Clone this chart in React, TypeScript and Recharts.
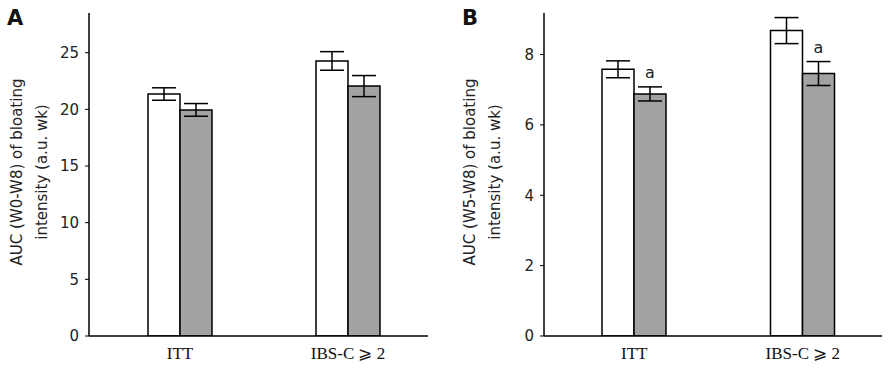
import React from 'react';
import { BarChart, Bar, XAxis, YAxis, ErrorBar, LabelList } from 'recharts';

const categories = ['ITT', 'IBS-C ⩾ 2'];

// Panel A: AUC (W0-W8)
const aControl = [21.35, 24.27];
const aControlErr = [0.55, 0.82];
const aTreated = [19.95, 22.05];
const aTreatedErr = [0.56, 0.93];
const aTicks = [0, 5, 10, 15, 20, 25];

// Panel B: AUC (W5-W8)
const bControl = [7.58, 8.68];
const bControlErr = [0.24, 0.37];
const bTreated = [6.88, 7.46];
const bTreatedErr = [0.2, 0.34];
const bSig = ['a', 'a'];
const bTicks = [0, 2, 4, 6, 8];

const sans = 'Tahoma, "DejaVu Sans", Verdana, sans-serif';
const serif = '"Liberation Serif", "Times New Roman", serif';

const build = (c: number[], ce: number[], t: number[], te: number[], sig?: string[]) =>
  categories.map((name, i) => ({
    name,
    control: c[i],
    controlErr: ce[i],
    treated: t[i],
    treatedErr: te[i],
    sig: sig ? sig[i] : '',
  }));

const dataA = build(aControl, aControlErr, aTreated, aTreatedErr);
const dataB = build(bControl, bControlErr, bTreated, bTreatedErr, bSig);

function Panel({
  data,
  letter,
  line1,
  line2,
  width,
  yWidth,
  right,
  domainMax,
  ticks,
  labelX,
  padL,
  padR,
  showSig,
}: any) {
  return (
    <div style={{ position: 'relative', width, height: 368 }}>
      <BarChart
        width={width}
        height={368}
        data={data}
        margin={{ top: 13, right, bottom: 2, left: 0 }}
        barGap={0}
        barSize={32}
      >
        <XAxis
          dataKey="name"
          axisLine={{ stroke: '#000', strokeWidth: 1.5 }}
          tickLine={false}
          height={30}
          padding={{ left: padL, right: padR }}
          tick={{ fontFamily: serif, fontSize: 17, fill: '#111', dy: 3 }}
        />
        <YAxis
          width={yWidth}
          domain={[0, domainMax]}
          ticks={ticks}
          allowDataOverflow
          axisLine={{ stroke: '#000', strokeWidth: 1.5 }}
          tickLine={{ stroke: '#000', strokeWidth: 1 }}
          tickSize={4}
          tick={{ fontFamily: sans, fontSize: 15, fill: '#222' }}
          tickMargin={6}
        />
        <Bar dataKey="control" fill="#fff" stroke="#000" strokeWidth={1.5} isAnimationActive={false}>
          <ErrorBar dataKey="controlErr" width={12} stroke="#000" strokeWidth={1.5} />
        </Bar>
        <Bar dataKey="treated" fill="#a2a2a2" stroke="#000" strokeWidth={1.5} isAnimationActive={false}>
          <ErrorBar dataKey="treatedErr" width={12} stroke="#000" strokeWidth={1.5} />
          {showSig && (
            <LabelList
              dataKey="sig"
              content={(p: any) => {
                const { x, y, width: w, height: h, index } = p;
                const d = data[index];
                const top = y - (d.treatedErr * h) / d.treated;
                return (
                  <text
                    x={x + w / 2}
                    y={top - 9}
                    textAnchor="middle"
                    fontFamily={sans}
                    fontSize={16}
                    fill="#222"
                  >
                    {d.sig}
                  </text>
                );
              }}
            />
          )}
        </Bar>
      </BarChart>
      <svg
        width={width}
        height={368}
        style={{ position: 'absolute', left: 0, top: 0, pointerEvents: 'none' }}
      >
        <text x={letter.x} y={25} fontFamily={sans} fontWeight="bold" fontSize={21} fill="#111">
          {letter.text}
        </text>
        {[line1, line2].map((s: string, i: number) => {
          const cx = labelX + i * 25;
          const cy = 172;
          return (
            <text
              key={i}
              x={cx}
              y={cy}
              transform={`rotate(-90 ${cx} ${cy})`}
              textAnchor="middle"
              dominantBaseline="central"
              fontFamily={sans}
              fontSize={15}
              fill="#222"
            >
              {s}
            </text>
          );
        })}
      </svg>
    </div>
  );
}

export default function App() {
  return (
    <div
      style={{
        position: 'absolute',
        left: 0,
        top: 0,
        width: 894,
        height: 368,
        background: '#fff',
        display: 'flex',
      }}
    >
      <Panel
        data={dataA}
        letter={{ text: 'A', x: 7 }}
        line1="AUC (W0-W8) of bloating"
        line2="intensity (a.u. wk)"
        width={445}
        yWidth={89}
        right={17}
        domainMax={28.5}
        ticks={aTicks}
        labelX={17}
        padL={7}
        padR={-4}
        showSig={false}
      />
      <Panel
        data={dataB}
        letter={{ text: 'B', x: 17 }}
        line1="AUC (W5-W8) of bloating"
        line2="intensity (a.u. wk)"
        width={449}
        yWidth={99}
        right={12}
        domainMax={9.18}
        ticks={bTicks}
        labelX={25}
        padL={6}
        padR={-5}
        showSig
      />
    </div>
  );
}
